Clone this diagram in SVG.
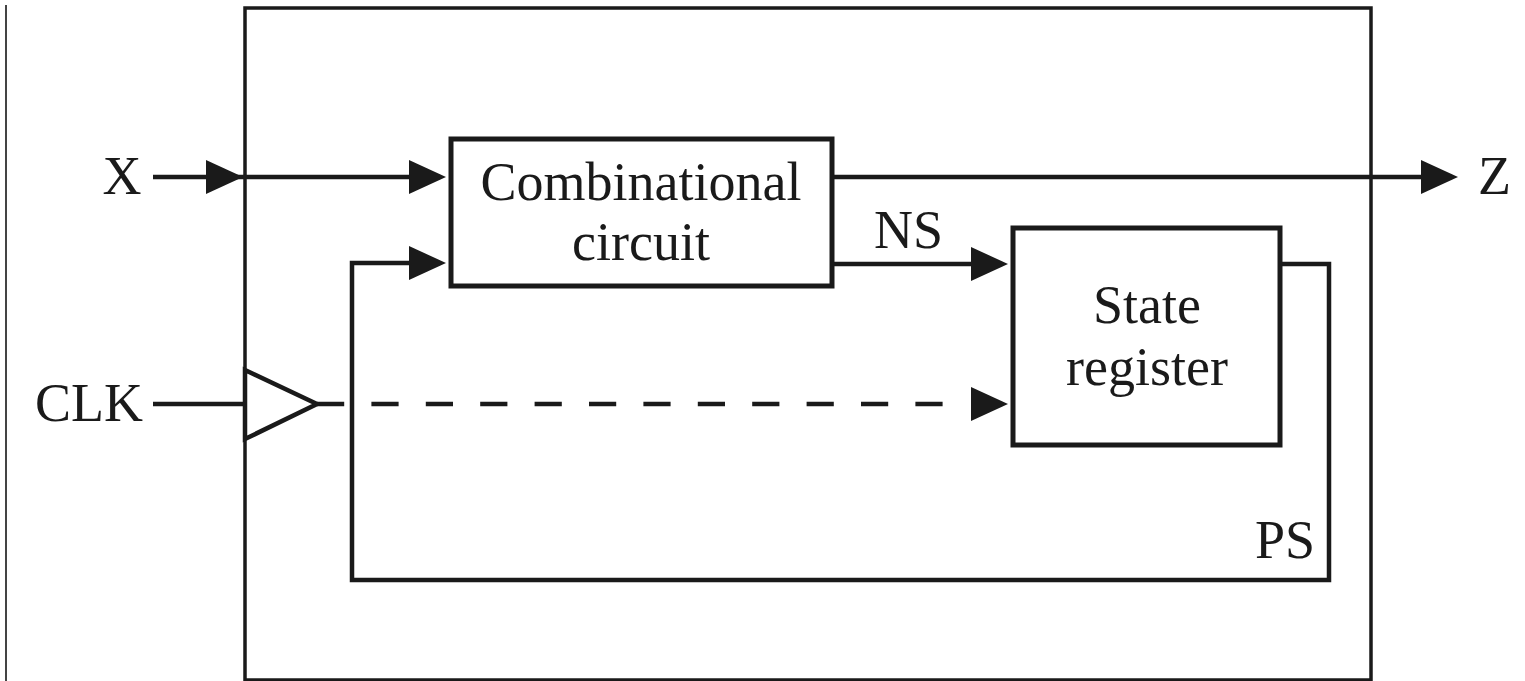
<svg xmlns="http://www.w3.org/2000/svg" xmlns:xlink="http://www.w3.org/1999/xlink" width="1525" height="681" viewBox="0 0 1525 681">
  <style>
    .txt { font-family: "Liberation Serif", "Times New Roman", serif; font-size: 54px; fill: #1a1a1a; }
    .box { fill: #ffffff; stroke: #1a1a1a; stroke-width: 5; }
    .wire { fill: none; stroke: #1a1a1a; stroke-width: 4.5; stroke-linejoin: miter; stroke-linecap: butt; }
    .dash { fill: none; stroke: #1a1a1a; stroke-width: 4.5; stroke-dasharray: 27.2 27.2; }
    .outer { fill: none; stroke: #1a1a1a; stroke-width: 3.5; }
    .ah { fill: #1a1a1a; stroke: none; }
  </style>
  <defs>
    <path id="ah" class="ah" d="M-37,-17 L0,0 L-37,17 Z"/>
  </defs>
  <rect width="1525" height="681" fill="#ffffff"/>
  <line x1="6" y1="5" x2="6" y2="681" stroke="#444" stroke-width="2"/>

  <g id="system">
    <rect class="outer" x="245" y="8" width="1126" height="672"/>
  </g>

  <g id="connectors">
    <line class="wire" x1="153" y1="177" x2="440" y2="177"/>
    <use xlink:href="#ah" href="#ah" transform="translate(243,177)"/>
    <use xlink:href="#ah" href="#ah" transform="translate(446,177)"/>
    <line class="wire" x1="832" y1="177" x2="1452" y2="177"/>
    <use xlink:href="#ah" href="#ah" transform="translate(1458,177)"/>
    <line class="wire" x1="832" y1="264" x2="1000" y2="264"/>
    <use xlink:href="#ah" href="#ah" transform="translate(1008,264)"/>
    <path class="wire" d="M1280,264 H1329 V580 H352 V263 H440"/>
    <use xlink:href="#ah" href="#ah" transform="translate(446,263)"/>
    <line class="wire" x1="153" y1="404" x2="245" y2="404"/>
    <line class="dash" x1="317" y1="404" x2="944" y2="404"/>
    <use xlink:href="#ah" href="#ah" transform="translate(1008,404)"/>
    <polygon class="wire" points="245,370 317,404 245,439" fill="#ffffff" style="fill:#ffffff"/>
  </g>

  <g id="comb">
    <rect class="box" x="451" y="139" width="381" height="147"/>
    <text class="txt" x="641" y="200" text-anchor="middle">Combinational</text>
    <text class="txt" x="641" y="260" text-anchor="middle">circuit</text>
  </g>

  <g id="state">
    <rect class="box" x="1013" y="228" width="267" height="217"/>
    <text class="txt" x="1147" y="323" text-anchor="middle">State</text>
    <text class="txt" x="1147" y="385" text-anchor="middle">register</text>
  </g>

  <g id="labels">
    <text class="txt" x="122" y="194" text-anchor="middle">X</text>
    <text class="txt" x="1478" y="194">Z</text>
    <text class="txt" x="35" y="421">CLK</text>
    <text class="txt" x="874" y="248">NS</text>
    <text class="txt" x="1255" y="558">PS</text>
  </g>
</svg>
